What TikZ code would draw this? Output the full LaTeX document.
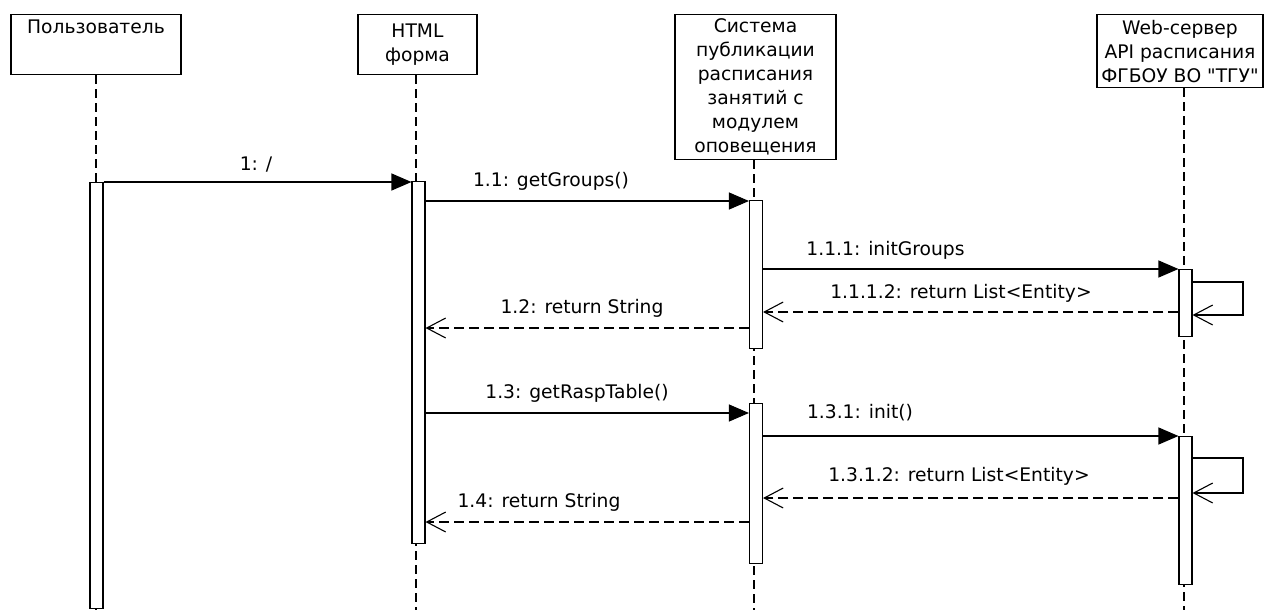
\documentclass[tikz,border=0pt]{standalone}
\usepackage{fontspec}
\newfontfamily\umlfont{DejaVu Sans}
\usetikzlibrary{arrows.meta}

\begin{document}
\begin{tikzpicture}[x=1pt,y=-1pt,line width=1.1pt,
  font=\umlfont\fontsize{18.7}{24}\selectfont,
  obj/.style={draw,rectangle,align=center,inner sep=4pt,anchor=north},
  act/.style={draw,fill=white,rectangle,minimum width=13pt,inner sep=0pt,anchor=north},
  life/.style={dash pattern=on 9pt off 5pt},
  call/.style={-{Triangle[length=20pt,width=17pt]}},
  ret/.style={dash pattern=on 10pt off 5pt,-{Straight Barb[length=19pt,width=20pt]}},
  selfcall/.style={-{Straight Barb[length=19pt,width=20pt]}},
  msg/.style={anchor=base,inner sep=0pt}]
\useasboundingbox (0,0) rectangle (1264,610);

%OBJECTS
\node[obj,minimum width=170pt,minimum height=60pt,text height=15pt,text depth=37pt] (usr) at (96,14) {Пользователь};
\node[obj,minimum width=119pt,minimum height=60pt] (html) at (417.5,14) {HTML\\форма};
\node[obj,minimum width=161pt,minimum height=145pt] (sys) at (755.5,14) {Система\\публикации\\расписания\\занятий с\\модулем\\оповещения};
\node[obj,minimum width=166pt,minimum height=73pt] (web) at (1180,14) {Web-сервер\\API расписания\\ФГБОУ ВО "ТГУ"};

%LIFELINES
\coordinate (ul) at (96,610);
\coordinate (hl) at (416,610);
\coordinate (sl) at (754,610);
\coordinate (wl) at (1184,610);
\draw[life] (usr.south) -- (ul);
\draw[life] (html.south -| hl) -- (hl);
\draw[life] (sys.south -| sl) -- (sl);
\draw[life] (web.south -| wl) -- (wl);

%ACTIVATIONS
\node[act,minimum height=426pt] (ua) at (96.5,182) {};
\node[act,minimum height=362pt] (ha) at (418.5,181) {};
\node[act,minimum height=148pt] (sa1) at (756,200) {};
\node[act,minimum height=160pt] (sa2) at (756,403) {};
\node[act,minimum height=67pt] (wa1) at (1185.5,269) {};
\node[act,minimum height=148pt] (wa2) at (1185.5,436) {};

%ROWS
\coordinate (r1) at (0,182);
\coordinate (r11) at (0,201);
\coordinate (r111) at (0,269);
\coordinate (q1a) at (0,282);
\coordinate (q1b) at (0,315);
\coordinate (r1112) at (0,312);
\coordinate (r12) at (0,328);
\coordinate (r13) at (0,413);
\coordinate (r131) at (0,436);
\coordinate (q2a) at (0,458);
\coordinate (q2b) at (0,493);
\coordinate (r1312) at (0,498);
\coordinate (r14) at (0,522);
\coordinate (lp1) at (1243,298);
\coordinate (lp2) at (1243,475);

%MESSAGES
\draw[call] (ua.east |- r1) -- (ha.west |- r1);
\node[msg] (l1) at (256,170) {1: /};
\draw[call] (ha.east |- r11) -- (sa1.west |- r11);
\node[msg] (l11) at (551,186) {1.1: getGroups()};
\draw[call] (sa1.east |- r111) -- (wa1.west |- r111);
\node[msg] (l111) at (885.5,255) {1.1.1: initGroups};
\draw[selfcall] (wa1.east |- q1a) -| (lp1) |- (wa1.east |- q1b);
\draw[ret] (wa1.west |- r1112) -- (sa1.east |- r1112);
\node[msg] (l1112) at (961,298) {1.1.1.2: return List<Entity>};
\draw[ret] (sa1.west |- r12) -- (ha.east |- r12);
\node[msg] (l12) at (582,313) {1.2: return String};

\draw[call] (ha.east |- r13) -- (sa2.west |- r13);
\node[msg] (l13) at (577,398) {1.3: getRaspTable()};
\draw[call] (sa2.east |- r131) -- (wa2.west |- r131);
\node[msg] (l131) at (860,418) {1.3.1: init()};
\draw[selfcall] (wa2.east |- q2a) -| (lp2) |- (wa2.east |- q2b);
\draw[ret] (wa2.west |- r1312) -- (sa2.east |- r1312);
\node[msg] (l1312) at (959,481) {1.3.1.2: return List<Entity>};
\draw[ret] (sa2.west |- r14) -- (ha.east |- r14);
\node[msg] (l14) at (539,507) {1.4: return String};
\end{tikzpicture}
\end{document}
